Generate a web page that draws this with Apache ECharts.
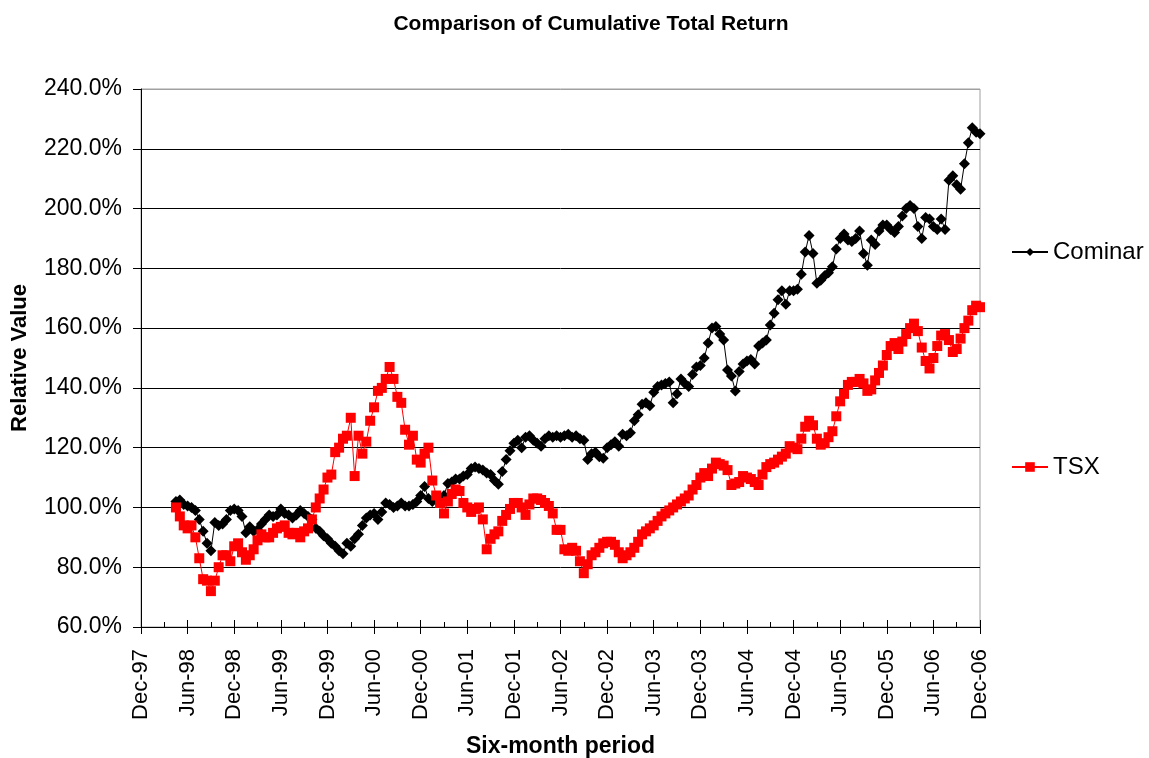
<!DOCTYPE html>
<html>
<head>
<meta charset="utf-8">
<script src="https://cdn.jsdelivr.net/npm/echarts@6/dist/echarts.min.js"></script>
<style>
  html, body { margin: 0; padding: 0; background: #fff; }
  #chart { width: 1149px; height: 758px; }
</style>
</head>
<body>
<div id="chart"></div>
<script>
// half-month observation dates
var periods = [
  '1998-04-15','1998-05-01','1998-05-15','1998-06-01','1998-06-15','1998-07-01','1998-07-15','1998-08-01','1998-08-15','1998-09-01','1998-09-15','1998-10-01','1998-10-15','1998-11-01','1998-11-15','1998-12-01','1998-12-15',
  '1999-01-01','1999-01-15','1999-02-01','1999-02-15','1999-03-01','1999-03-15','1999-04-01','1999-04-15','1999-05-01','1999-05-15','1999-06-01','1999-06-15','1999-07-01','1999-07-15','1999-08-01','1999-08-15','1999-09-01','1999-09-15','1999-10-01','1999-10-15','1999-11-01','1999-11-15','1999-12-01','1999-12-15',
  '2000-01-01','2000-01-15','2000-02-01','2000-02-15','2000-03-01','2000-03-15','2000-04-01','2000-04-15','2000-05-01','2000-05-15','2000-06-01','2000-06-15','2000-07-01','2000-07-15','2000-08-01','2000-08-15','2000-09-01','2000-09-15','2000-10-01','2000-10-15','2000-11-01','2000-11-15','2000-12-01','2000-12-15',
  '2001-01-01','2001-01-15','2001-02-01','2001-02-15','2001-03-01','2001-03-15','2001-04-01','2001-04-15','2001-05-01','2001-05-15','2001-06-01','2001-06-15','2001-07-01','2001-07-15','2001-08-01','2001-08-15','2001-09-01','2001-09-15','2001-10-01','2001-10-15','2001-11-01','2001-11-15','2001-12-01','2001-12-15',
  '2002-01-01','2002-01-15','2002-02-01','2002-02-15','2002-03-01','2002-03-15','2002-04-01','2002-04-15','2002-05-01','2002-05-15','2002-06-01','2002-06-15','2002-07-01','2002-07-15','2002-08-01','2002-08-15','2002-09-01','2002-09-15','2002-10-01','2002-10-15','2002-11-01','2002-11-15','2002-12-01','2002-12-15',
  '2003-01-01','2003-01-15','2003-02-01','2003-02-15','2003-03-01','2003-03-15','2003-04-01','2003-04-15','2003-05-01','2003-05-15','2003-06-01','2003-06-15','2003-07-01','2003-07-15','2003-08-01','2003-08-15','2003-09-01','2003-09-15','2003-10-01','2003-10-15','2003-11-01','2003-11-15','2003-12-01','2003-12-15',
  '2004-01-01','2004-01-15','2004-02-01','2004-02-15','2004-03-01','2004-03-15','2004-04-01','2004-04-15','2004-05-01','2004-05-15','2004-06-01','2004-06-15','2004-07-01','2004-07-15','2004-08-01','2004-08-15','2004-09-01','2004-09-15','2004-10-01','2004-10-15','2004-11-01','2004-11-15','2004-12-01','2004-12-15',
  '2005-01-01','2005-01-15','2005-02-01','2005-02-15','2005-03-01','2005-03-15','2005-04-01','2005-04-15','2005-05-01','2005-05-15','2005-06-01','2005-06-15','2005-07-01','2005-07-15','2005-08-01','2005-08-15','2005-09-01','2005-09-15','2005-10-01','2005-10-15','2005-11-01','2005-11-15','2005-12-01','2005-12-15',
  '2006-01-01','2006-01-15','2006-02-01','2006-02-15','2006-03-01','2006-03-15','2006-04-01','2006-04-15','2006-05-01','2006-05-15','2006-06-01','2006-06-15','2006-07-01','2006-07-15','2006-08-01','2006-08-15','2006-09-01','2006-09-15','2006-10-01','2006-10-15','2006-11-01','2006-11-15','2006-12-01'
];

// relative value, % of start
var cominar = [
  102, 102.5, 101, 100.5, 100, 99, 96, 92, 88, 85.5, 95, 94, 94.5, 96, 99, 99.5, 99,
  97, 91.5, 93.5, 92, 92.5, 94.5, 96, 97.5, 97, 97.5, 99.5, 98, 97.5, 96.5, 97.5, 99, 98, 97, 96, 93, 92, 90.5, 89.5, 88,
  87, 85.5, 84.5, 88, 87, 89.5, 91, 94, 96.5, 97.5, 98, 96, 98.5, 101.5, 101, 100, 100.5, 101.5, 100.5, 100.5, 101, 102, 104, 107,
  103, 102, 102.5, 102, 104, 108, 108.5, 109.5, 109.5, 110.5, 111, 113, 113.5, 113, 112.5, 111.5, 111, 109, 107.8, 112, 116, 119, 121.5, 122.5,
  120, 123.5, 124, 122.5, 121.5, 120.5, 123, 124, 123.5, 124, 123.5, 124, 124.5, 123.5, 124, 123, 122.5, 116, 118, 118.5, 117, 116.5, 120, 121,
  122, 120.5, 124.5, 124, 125, 129, 131, 134.5, 135, 134, 138.5, 140.5, 141, 141.5, 142, 135, 138, 143, 141.5, 140.5, 144.5, 147, 147.5, 150,
  155, 160, 160.5, 158, 156, 146, 144, 139, 145.5, 148, 149, 149.5, 148, 154, 155, 156, 161, 165, 169.5, 172.5, 168, 172.5, 172.5, 173,
  178, 185.5, 191, 185, 175, 176, 177.5, 178.5, 180.5, 186.5, 190, 191.5, 189.5, 189, 190, 192.5, 185, 181, 189.5, 188, 192.5, 194.5, 194.5, 193,
  192, 194, 197.5, 200, 201, 200, 194, 190, 197, 196.5, 194, 193, 196.5, 193, 209.5, 211, 208, 206.5, 215, 222, 227, 225.5, 225
];

var tsx = [
  100, 97, 94, 93, 94, 90, 83, 76, 75.5, 72, 75.5, 80, 84, 84, 82, 87, 88,
  85, 82.5, 84, 86, 89, 91, 90, 90, 91.5, 93, 93.5, 94, 91.5, 91, 91.5, 90, 92, 93, 96, 100, 103, 106, 110, 111,
  118.5, 120, 123, 124, 130, 110.5, 124, 118, 122, 129, 133.5, 139, 140, 143, 147, 143, 137, 135, 126, 121, 124, 116, 115, 118,
  120, 109, 104, 101.5, 98, 102, 104.5, 106, 105.5, 101.5, 100, 98.5, 99.5, 100, 96, 86, 89.5, 91, 92, 95.5, 97.5, 99.5, 101.5, 101.5,
  100, 97.5, 101, 103, 103, 102.5, 101.5, 100.5, 98, 92.5, 92.5, 86, 85.5, 86.5, 85.5, 82, 78, 81, 84, 85, 86.5, 88, 88.5, 88.5,
  87.5, 85, 83, 84, 85, 86.5, 88.5, 91, 92, 93, 94, 95.5, 97, 98, 99, 100, 101, 102, 103, 104, 106, 107.5, 110, 111.5,
  110.5, 113, 115, 114.5, 114, 112.5, 107.5, 108, 108.5, 110.5, 110, 109.5, 108.5, 107.5, 111, 113.5, 114.5, 115, 116, 117, 118, 120.5, 120, 119.5,
  123, 127, 129, 127.5, 123, 121, 121.5, 123.5, 125.5, 130.5, 135.5, 138, 141, 142, 142, 143, 141.5, 139, 139.5, 142.5, 145, 147.5, 151, 154,
  155, 153, 155.5, 158, 160, 161.5, 159, 153.5, 149, 146.5, 150, 154, 157.5, 158, 156, 152, 153, 156.5, 160, 162.5, 166, 167.5, 167
];

var monthNames = ['Jan','Feb','Mar','Apr','May','Jun','Jul','Aug','Sep','Oct','Nov','Dec'];
var font = "'Liberation Sans', Arial, sans-serif";

// months since Dec-97
function toMonths(s) {
  var p = s.split('-');
  return (+p[0] - 1997) * 12 + (+p[1] - 12) + (+p[2] - 1) / 28;
}
function monthLabel(m) {
  var total = 1997 * 12 + 11 + Math.round(m);
  return monthNames[total % 12] + '-' + String(Math.floor(total / 12)).slice(2);
}
function pairs(vals) {
  return vals.map(function (v, i) { return [toMonths(periods[i]), v]; });
}

var chart = echarts.init(document.getElementById('chart'));
chart.setOption({
  animation: false,
  backgroundColor: '#fff',
  title: {
    text: 'Comparison of Cumulative Total Return',
    left: 586, top: 9, textAlign: 'center',
    textStyle: { fontFamily: font, fontSize: 21, fontWeight: 'bold', color: '#000' }
  },
  grid: {
    left: 141, right: 169, top: 89, bottom: 131,
    outerBoundsMode: 'none', containLabel: false,
    show: true, borderColor: '#a0a0a0', borderWidth: 1
  },
  legend: [{
    data: ['Cominar'], orient: 'vertical', left: 1011, top: 240, padding: 0,
    itemWidth: 36, itemHeight: 10,
    textStyle: { fontFamily: font, fontSize: 24, color: '#000' }
  }, {
    data: ['TSX'], orient: 'vertical', left: 1011, top: 455, padding: 0,
    itemWidth: 36, itemHeight: 12,
    textStyle: { fontFamily: font, fontSize: 24, color: '#000' }
  }],
  xAxis: [{
    type: 'value', min: 0, max: 108, interval: 6,
    name: 'Six-month period', nameLocation: 'middle', nameGap: 108,
    nameTextStyle: { fontFamily: font, fontSize: 23, fontWeight: 'bold', color: '#000' },
    axisLine: { show: true, lineStyle: { color: '#000', width: 1 } },
    axisTick: { show: true, inside: false, length: 7, lineStyle: { color: '#000' } },
    axisLabel: {
      rotate: 90, margin: 22, fontFamily: font, fontSize: 22, color: '#000',
      formatter: monthLabel
    },
    splitLine: { show: false }
  }, {
    type: 'value', min: 0, max: 108, interval: 6, position: 'bottom',
    axisLine: { show: false },
    axisTick: { show: true, inside: true, length: 7, lineStyle: { color: '#000' } },
    minorTick: { show: true, splitNumber: 2, length: 5, lineStyle: { color: '#000' } },
    axisLabel: { show: false },
    splitLine: { show: false }
  }],
  yAxis: {
    type: 'value', min: 60, max: 240, interval: 20,
    name: 'Relative Value', nameLocation: 'middle', nameGap: 110, nameRotate: 90,
    nameTextStyle: { fontFamily: font, fontSize: 22, fontWeight: 'bold', color: '#000' },
    axisLine: { show: true, lineStyle: { color: '#000', width: 1 } },
    axisTick: { show: true, inside: false, length: 8, lineStyle: { color: '#000' } },
    axisLabel: {
      margin: 19, fontFamily: font, fontSize: 23, color: '#000',
      formatter: function (v) { return v.toFixed(1) + '%'; }
    },
    splitLine: {
      show: true,
      lineStyle: { width: 1, color: ['#000', '#000', '#000', '#000', '#000', '#000', '#000', '#000', '#000', '#a0a0a0'] }
    }
  },
  series: [{
    name: 'Cominar', type: 'line', xAxisIndex: 0,
    data: pairs(cominar),
    symbol: 'diamond', symbolSize: 11,
    itemStyle: { color: '#000' },
    lineStyle: { color: '#000', width: 1 }
  }, {
    name: 'TSX', type: 'line', xAxisIndex: 0,
    data: pairs(tsx),
    symbol: 'rect', symbolSize: 10,
    itemStyle: { color: '#ff0000' },
    lineStyle: { color: '#ff0000', width: 1 }
  }]
});
</script>
</body>
</html>
